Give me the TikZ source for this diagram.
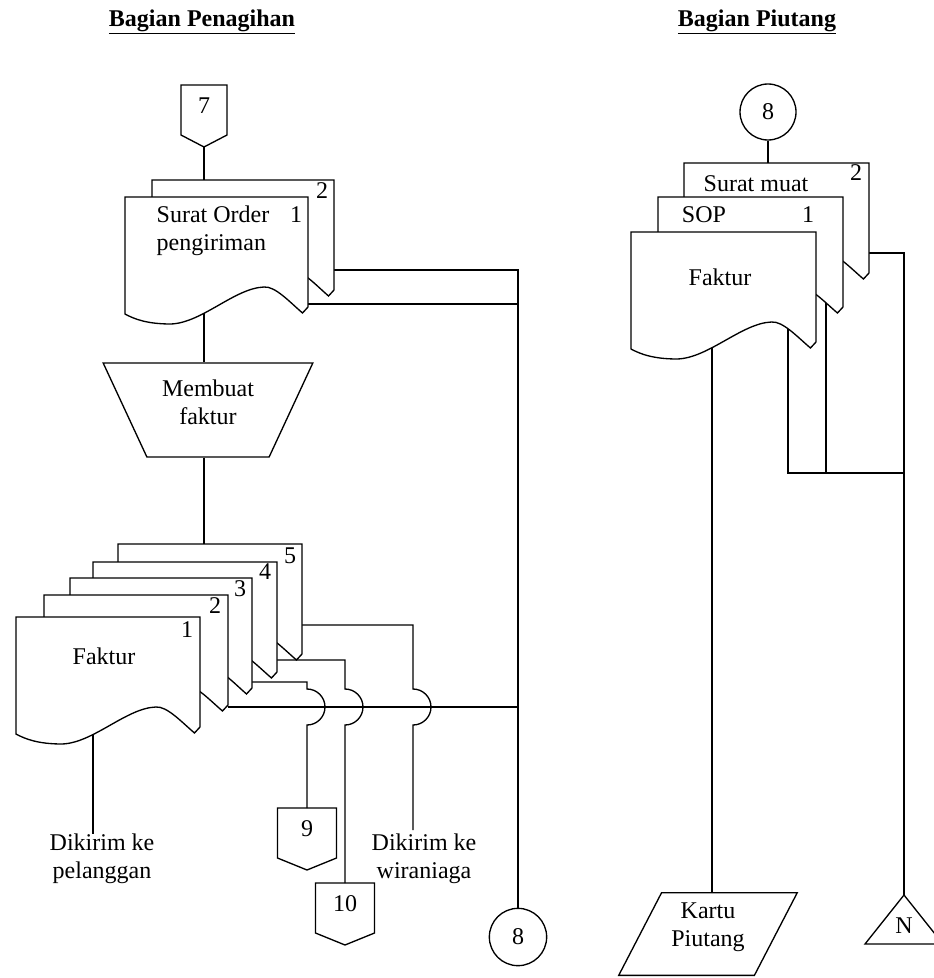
\documentclass[tikz,border=0pt]{standalone}
\usepackage{fontspec}
\setmainfont{Liberation Serif}
\usetikzlibrary{shapes.geometric,calc}

% document symbol: left x, top y, right x
\newcommand{\docshape}[3]{%
  \pgfmathsetmacro\dw{#3-#1}%
  \pgfmathsetmacro\db{#2+117}%
  \draw[doc] (#1,\db) -- (#1,#2) -- (#3,#2) -- (#3,\db-7)
    -- (#3-0.03*\dw,\db-1)
    .. controls (#1+0.9*\dw,\db-12) and (#1+0.82*\dw,\db-28) .. (#1+0.76*\dw,\db-27)
    .. controls (#1+0.6*\dw,\db-26) and (#1+0.42*\dw,\db+9) .. (#1+0.25*\dw,\db+10)
    .. controls (#1+0.12*\dw,\db+10) and (#1+0.05*\dw,\db+5) .. (#1,\db) -- cycle;}

% off-page connector: name, x, top y, half width, text
\newcommand{\offpage}[5]{%
  \draw[doc] (#2-#4,#3) -- (#2+#4,#3) -- (#2+#4,#3+50) -- (#2,#3+62) -- (#2-#4,#3+50) -- cycle;
  \node[lbl] (#1) at (#2,#3+21) {#5};
  \coordinate (#1-top) at (#2,#3);
  \coordinate (#1-bot) at (#2,#3+62);}

\begin{document}
\begin{tikzpicture}[x=0.75pt, y=-0.75pt, font=\fontsize{18}{21}\selectfont,
  conn/.style={draw, line width=1pt},
  doc/.style={draw, line width=1pt, fill=white},
  lbl/.style={inner sep=0pt, align=center},
  hop/.style={start angle=90, end angle=-90, radius=13.5pt}]
\useasboundingbox (0,0) rectangle (933,978);

\node[lbl] (tp) at (202,22) {\underline{\textbf{Bagian Penagihan}}};
\node[lbl] (tr) at (757,22) {\underline{\textbf{Bagian Piutang}}};

% Bagian Penagihan
\offpage{k7}{204}{85}{23}{7}
\node[draw, line width=1pt, trapezium, trapezium left angle=61, trapezium right angle=61,
  shape border rotate=180, trapezium stretches=true, minimum width=157.5pt,
  minimum height=70.5pt, inner sep=0pt, align=center, text depth=11pt] (mf) at (208,410) {Membuat\\faktur};
\offpage{k9}{307}{808}{29.5}{9}
\offpage{k10}{345}{883}{29.5}{10}
\node[draw, line width=1pt, circle, minimum size=43pt, inner sep=0pt] (c8b) at (518,937) {8};
\node[lbl] (pel) at (102,859) {Dikirim ke\\pelanggan};
\node[lbl] (wir) at (424,859) {Dikirim ke\\wiraniaga};

\coordinate (so-top) at (204,180);
\coordinate (so-bot) at (204,300);
\coordinate (so2-r) at (334,270);
\coordinate (so1-r) at (308,304);
\coordinate (fk-top) at (204,544);
\coordinate (fk1-b) at (93,730);
\coordinate (fk2-r) at (228,707);
\coordinate (fk3-r) at (252,682);
\coordinate (fk4-r) at (277,660);
\coordinate (fk5-r) at (302,625);
\coordinate (wir-in) at (413,830);

\draw[conn] (k7-bot) -- (so-top);
\draw[conn] (so-bot) -- (so-bot |- mf.north);
\draw[conn] (mf.south -| so-bot) -- (fk-top);
\draw[conn] (so2-r) -| (c8b);
\draw[conn] (so1-r) -- (so1-r -| c8b);
\draw[conn] (fk1-b) -- (fk1-b |- pel.north) -- ++(0,-7);
\draw[conn] (fk2-r) -- (fk2-r -| c8b);
\draw[conn] (fk3-r) -- (fk3-r -| k9-top) -- ++(0,7) arc[hop] -- (k9-top);
\draw[conn] (fk4-r) -- (fk4-r -| k10-top) -- ++(0,29) arc[hop] -- (k10-top);
\draw[conn] (fk5-r) -- (fk5-r -| wir-in) -- ++(0,64) arc[hop] -- (wir-in);

% Bagian Piutang
\node[draw, line width=1pt, circle, minimum size=42pt, inner sep=0pt] (c8a) at (768,112) {8};
\node[draw, line width=1pt, trapezium, trapezium left angle=61.5, trapezium right angle=118.5,
  trapezium stretches=true, minimum width=134pt, minimum height=62pt, inner sep=0pt,
  align=center, text depth=14pt] (kp) at (708,934) {Kartu\\Piutang};
\coordinate (n-top) at (904,895);
\draw[doc] (n-top) -- (943,944) -- (865,944) -- cycle;
\node[lbl] (nn) at (904,926) {N};

\coordinate (sm-top) at (768,163);
\coordinate (sm-r) at (869,253);
\coordinate (sop-b) at (826,300);
\coordinate (fr-b) at (788,320);
\coordinate (fr-k) at (712,340);
\coordinate (gab) at (904,473);

\draw[conn] (c8a) -- (sm-top);
\draw[conn] (sm-r) -| (n-top);
\draw[conn] (fr-b) |- (gab);
\draw[conn] (sop-b) -- (sop-b |- gab);
\draw[conn] (fr-k) -- (fr-k |- kp.north);

% dokumen
\docshape{152}{180}{334}
\docshape{125}{197}{308}
\node[lbl, align=left] (so) at (213,231) {Surat Order\\pengiriman};
\node[lbl] (so1) at (296,215) {1};
\node[lbl] (so2) at (322,191) {2};

\foreach \xa/\ya/\xb/\nr/\nx/\ny in {118/544/302/5/290/556, 93/562/277/4/265/572,
    70/578/252/3/240/589, 44/595/228/2/215/606, 16/617/200/1/187/630} {
  \docshape{\xa}{\ya}{\xb}
  \node[lbl] (fk\nr) at (\nx,\ny) {\nr};
}
\node[lbl] (fk) at (104,656) {Faktur};

\docshape{684}{163}{869}
\docshape{658}{197}{843}
\docshape{631}{232}{816}
\node[lbl] (sm) at (756,184) {Surat muat};
\node[lbl] (sm2) at (856,173) {2};
\node[lbl] (sop) at (704,215) {SOP};
\node[lbl] (sop1) at (808,215) {1};
\node[lbl] (fr) at (720,277) {Faktur};
\end{tikzpicture}
\end{document}
